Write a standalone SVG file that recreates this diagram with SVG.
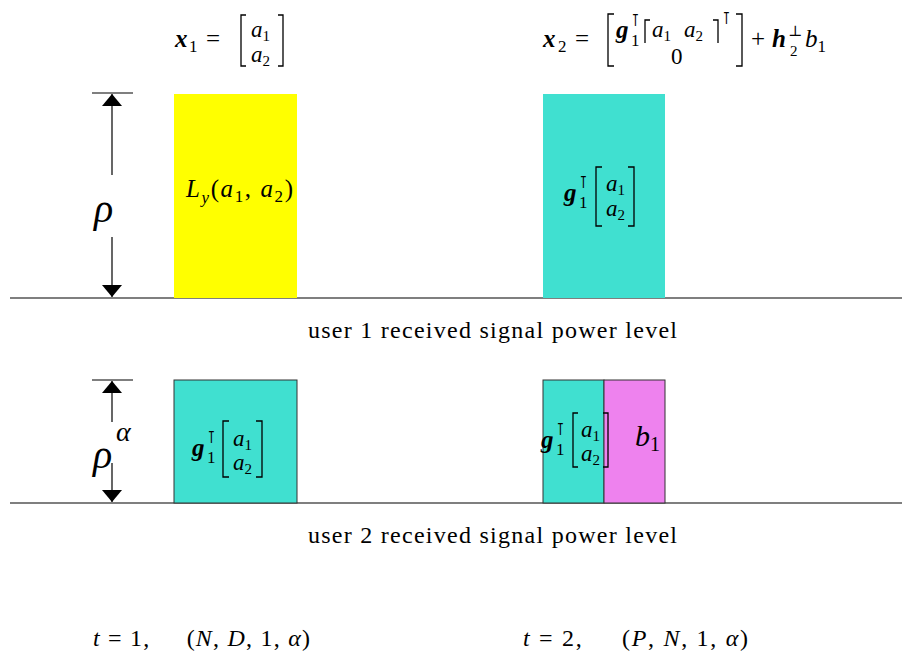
<svg xmlns="http://www.w3.org/2000/svg" width="902" height="658" viewBox="0 0 902 658">
<style>
.t{font-family:"Liberation Serif","DejaVu Serif",serif;font-size:25px;fill:#000}
.i{font-style:italic}
.b{font-style:italic;font-weight:bold}
.s{font-size:17px;font-style:normal}
.e{font-size:23px}
.es{font-size:15px;font-style:normal}
.lbl{font-size:24px}
.br{fill:none;stroke:#000;stroke-width:1.3}
.ln{stroke:#000;stroke-width:1.2;fill:none}
</style>
<defs>
<marker id="ah" viewBox="0 0 12 20" refX="12" refY="10" markerWidth="12" markerHeight="20" markerUnits="userSpaceOnUse" orient="auto"><path d="M0,0 L12,10 L0,20 z" fill="#000"/></marker>
</defs>
<rect width="902" height="658" fill="#fff"/>

<g id="eq1">
<text class="t b" x="175" y="47">x</text>
<text class="t s" x="189" y="52">1</text>
<text class="t" x="206" y="47">=</text>
<path class="br" d="M246,15 H241 V66 H246"/>
<text class="t i e" x="251" y="37">a<tspan class="es" dy="4">1</tspan></text>
<text class="t i e" x="251" y="62">a<tspan class="es" dy="4">2</tspan></text>
<path class="br" d="M278,15 H283 V66 H278"/>
</g>

<g id="eq2">
<text class="t b" x="543" y="47">x</text>
<text class="t s" x="558" y="52">2</text>
<text class="t" x="575" y="47">=</text>
<path class="br" d="M614,14 H608 V66 H614"/>
<text class="t b" x="616" y="38">g</text>
<text class="t s" x="631" y="26">⊺</text>
<text class="t s" x="631" y="46">1</text>
<path class="br" d="M650,20 H645 V43"/>
<text class="t i e" x="652" y="37">a<tspan class="es" dy="4">1</tspan></text>
<text class="t i e" x="684" y="37">a<tspan class="es" dy="4">2</tspan></text>
<path class="br" d="M713,20 H718 V43"/>
<text class="t s" x="722" y="24">⊺</text>
<text class="t e" x="671" y="64">0</text>
<path class="br" d="M736,14 H742 V66 H736"/>
<text class="t" x="751" y="47">+</text>
<text class="t b" x="772" y="47">h</text>
<text class="t s" x="788" y="36" style="font-size:15px">⊥</text>
<text class="t s" x="790" y="56" style="font-size:15px">2</text>
<text class="t i" x="805" y="47">b<tspan class="s" dy="5">1</tspan></text>
</g>

<g id="axis1">
<line class="ln" x1="10" y1="298" x2="902" y2="298"/>
<line class="ln" x1="92" y1="93" x2="133" y2="93"/>
</g>
<g id="box-yellow">
<rect x="174" y="94" width="123" height="204" fill="#ffff00"/>
<text class="t i" x="186" y="197" textLength="107" lengthAdjust="spacing">L<tspan class="s" style="font-style:italic" dy="6">y</tspan><tspan dy="-6" style="font-style:normal">(</tspan>a<tspan class="s" dy="5">1</tspan><tspan dy="-5" style="font-style:normal">, </tspan>a<tspan class="s" dy="5">2</tspan><tspan dy="-5" style="font-style:normal">)</tspan></text>
</g>
<g id="box-top-right">
<rect x="543" y="94" width="122" height="204" fill="#40e0d0"/>
<text class="t b" x="564" y="201">g</text>
<text class="t s" x="579" y="188">⊺</text>
<text class="t s" x="579" y="208">1</text>
<path class="br" d="M602,167 H596 V226 H602"/>
<text class="t i e" x="606" y="191">a<tspan class="es" dy="4">1</tspan></text>
<text class="t i e" x="606" y="216">a<tspan class="es" dy="4">2</tspan></text>
<path class="br" d="M628,167 H634 V226 H628"/>
</g>
<g id="rho">
<text class="t i" x="94" y="222" style="font-size:40px">ρ</text>
</g>

<g id="axis2">
<line class="ln" x1="10" y1="503" x2="902" y2="503"/>
<line class="ln" x1="92" y1="380" x2="133" y2="380"/>
</g>
<g id="box-bottom-left">
<rect x="174" y="380" width="123" height="123" fill="#40e0d0" stroke="#333" stroke-width="1"/>
<text class="t b" x="192" y="456">g</text>
<text class="t s" x="207" y="443">⊺</text>
<text class="t s" x="207" y="463">1</text>
<path class="br" d="M229,421 H223 V477 H229"/>
<text class="t i e" x="233" y="446">a<tspan class="es" dy="4">1</tspan></text>
<text class="t i e" x="233" y="470">a<tspan class="es" dy="4">2</tspan></text>
<path class="br" d="M256,421 H262 V477 H256"/>
</g>
<g id="box-bottom-right-a">
<rect x="543" y="380" width="61" height="123" fill="#40e0d0" stroke="#333" stroke-width="1"/>
<text class="t b" x="541" y="448">g</text>
<text class="t s" x="556" y="435">⊺</text>
<text class="t s" x="556" y="455">1</text>
<path class="br" d="M578,413 H573 V467 H578"/>
<text class="t i e" x="581" y="437">a<tspan class="es" dy="4">1</tspan></text>
<text class="t i e" x="581" y="461">a<tspan class="es" dy="4">2</tspan></text>
</g>
<g id="box-bottom-right-b">
<rect x="604" y="380" width="61" height="123" fill="#ee82ee" stroke="#333" stroke-width="1"/>
<path class="br" d="M603,413 H608 V467 H603"/>
<text class="t i" x="635" y="446" style="font-size:30px">b<tspan class="s" style="font-size:20px" dy="5">1</tspan></text>
</g>
<g id="rhoalpha">
<text class="t i" x="93" y="468" style="font-size:40px">ρ</text>
<text class="t i" x="116" y="441" style="font-size:28px">α</text>
</g>

<g id="connectors">
<line class="ln" x1="112" y1="175" x2="112" y2="94" marker-end="url(#ah)"/>
<line class="ln" x1="112" y1="237" x2="112" y2="297" marker-end="url(#ah)"/>
<line class="ln" x1="112" y1="422" x2="112" y2="381" marker-end="url(#ah)"/>
<line class="ln" x1="112" y1="463" x2="112" y2="502" marker-end="url(#ah)"/>
</g>

<g id="labels">
<text class="t lbl" x="308" y="338" textLength="369" lengthAdjust="spacing">user 1 received signal power level</text>
<text class="t lbl" x="308" y="543" textLength="369" lengthAdjust="spacing">user 2 received signal power level</text>
<text class="t lbl" x="93" y="646" xml:space="preserve" textLength="217" lengthAdjust="spacing"><tspan class="i">t</tspan> = 1,     (<tspan class="i">N</tspan>, <tspan class="i">D</tspan>, 1, <tspan class="i">α</tspan>)</text>
<text class="t lbl" x="523" y="646" xml:space="preserve" textLength="225" lengthAdjust="spacing"><tspan class="i">t</tspan> = 2,     (<tspan class="i">P</tspan>, <tspan class="i">N</tspan>, 1, <tspan class="i">α</tspan>)</text>
</g>
</svg>
